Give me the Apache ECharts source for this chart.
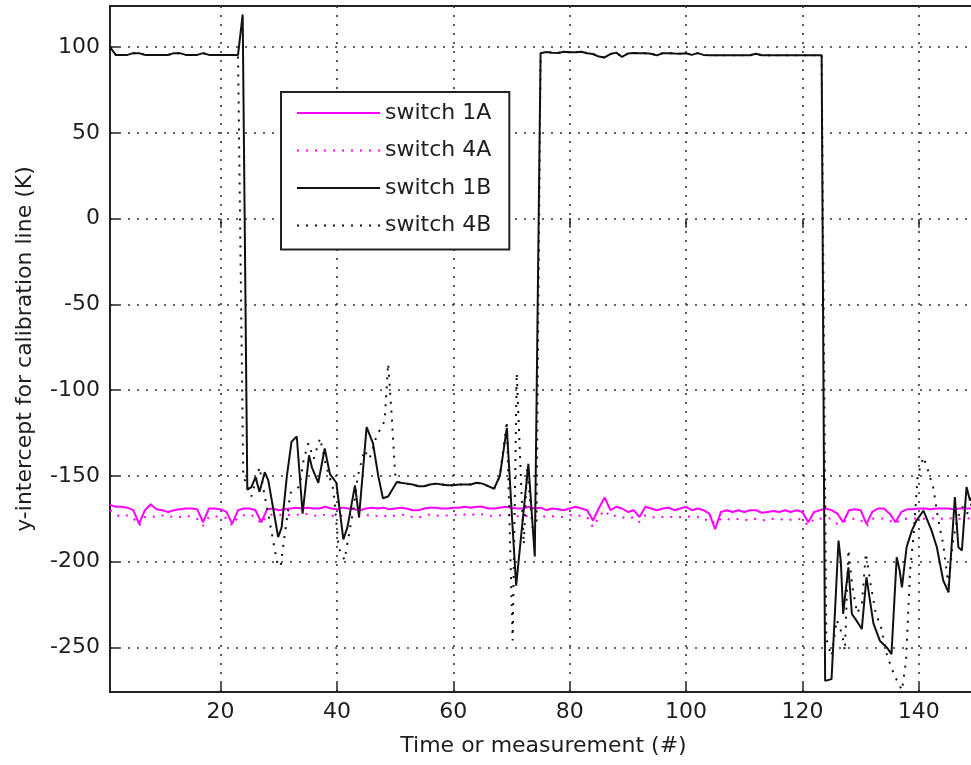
<!DOCTYPE html>
<html><head><meta charset="utf-8">
<script src="https://cdn.jsdelivr.net/npm/echarts@6/dist/echarts.min.js"></script>
<style>html,body{margin:0;padding:0;background:#fff}#c{width:971px;height:765px}</style>
</head><body><div id="c"></div>
<script>
const xTicks = [20,40,60,80,100,120,140];
const yTicks = [-250,-200,-150,-100,-50,0,50,100];
const legendNames = ['switch 1A','switch 4A','switch 1B','switch 4B'];

// switch 1A, one value per measurement 1..150
const switch1A = [
-167,-168,-168,-168.5,-170,-178,-170,-166.5,-169.5,-170,
-171,-170,-169.5,-169,-169,-169.5,-177,-169,-169,-169.5,
-171,-178,-170,-169,-169,-170,-177,-169.5,-169,-170,
-169.5,-169,-168.5,-169,-168.5,-169,-169,-168,-169,-169.5,
-168.5,-169,-169.5,-170,-169,-168.5,-169,-168.5,-169.5,-169,
-168.5,-169,-170,-170,-169,-168.5,-168.5,-169,-169,-168.5,
-168.5,-168,-168.5,-168,-168,-169,-169,-168.5,-168,-168.5,
-169,-169,-168,-169,-168.5,-170,-169,-169.5,-170,-169,
-168,-169,-170,-176,-169,-162.5,-170,-168,-169,-171,
-170,-174,-168,-169,-170,-169,-168.5,-170,-169,-168,
-170,-169,-170,-172,-181,-171,-170,-171,-170,-171,
-170,-170,-171.5,-171,-170.5,-171,-170,-171,-170,-171,
-177,-171,-170,-169,-170,-172,-177,-170,-169.5,-170,
-178,-171,-169,-169,-172,-177,-171,-169.5,-169.5,-169,
-169,-169.5,-169,-169,-169,-169.5,-169,-169,-169,-169
];

// switch 4A, one value per measurement 1..150
const switch4A = [
-170,-172.5,-174,-173,-174.5,-179,-174,-173.5,-174,-173,
-174,-173.5,-174,-173,-174,-175,-179,-174,-173.5,-174,
-174.5,-179,-174,-173,-172.5,-174,-178,-173,-172.5,-173,
-172,-173,-172.5,-173,-172,-173,-173.5,-172.5,-173,-174,
-173,-172.5,-173,-174,-173,-172.5,-173.5,-173,-174,-173,
-172.5,-173,-174,-174.5,-173,-172.5,-173,-173.5,-173,-172.5,
-173,-172.5,-173,-172,-172.5,-173,-173.5,-173,-172.5,-173,
-173.5,-174,-173,-173.5,-173,-174,-173.5,-174,-174,-173,
-172.5,-173.5,-174,-180,-174,-170,-174,-173,-174,-175,
-174,-177,-173,-174,-174.5,-174,-173.5,-174.5,-174,-173.5,
-174,-174,-176,-175,-178,-175,-175,-176,-175,-175.5,
-176,-175,-176,-175.5,-175,-175.5,-175,-175.5,-175,-175.5,
-179,-175,-175,-174.5,-175,-178,-177,-175,-175,-175.5,
-179.5,-175,-174.5,-175,-176,-178,-175,-175,-175,-174.5,
-175,-175,-174.5,-175,-175,-174.5,-175,-175,-174.5,-175
];

// switch 1B, [measurement, value]
const switch1B = [
[1,100],[2,95.5],[3,95.5],[4,95.5],[5,96.5],[6,96.5],[7,95.5],[8,95.5],[9,95.5],[10,95.5],[11,95.5],[12,96.5],[13,96.5],[14,95.5],[15,95.5],[16,95.5],[17,96.5],[18,95.5],[19,95.5],[20,95.5],[21,95.5],[22,95.5],[23,95.5],
[23.8,119],[24.6,-158],[25.3,-156.5],[26,-150.7],[26.7,-159.3],[27.6,-147.8],[28.2,-152.6],[29.1,-170],[29.9,-185.7],[30.5,-180],[31.4,-150],[32.2,-130],[33.1,-127],[34.1,-172],[35.2,-138],[35.7,-145],[36.8,-154],[37.9,-134],[38.8,-149],[39.9,-154],[41.1,-187],[41.8,-180],[43.1,-155.5],[43.8,-174],[45.1,-121.5],[46.2,-131],[47.1,-150],[47.9,-163],[48.8,-162],[50.3,-153.6],
[51,-154],[52,-154.5],[53,-155],[54,-156],[55,-156],[56,-155],[57,-154.5],[58,-155],[59,-155.5],[60,-155.5],[61,-155],[62,-155],[63,-155],[64,-154],[65,-154.5],[66,-156],[67,-157.5],[68,-150],[69.2,-122],[70.1,-175],[70.8,-214],[71.8,-180],[72.9,-143],[74,-197],[75,96.5],
[76,97.2],[77,96.8],[78,96.6],[79,97.3],[80,97],[81,97],[82,97.3],[83,96.5],[84,96],[85,94.5],[86,94],[87,96],[88,96.8],[89,94.3],[90,96.3],[91,96.6],[92,96.5],[93,96.5],[94,96.2],[95,95.2],[96,96.5],[97,96.5],[98,96.3],[99,96.2],[100,96.4],[101,95.5],[102,96.5],[103,95.5],[104,95.3],[105,95.3],[106,95.3],[107,95.3],[108,95.3],[109,95.3],[110,95.3],[111,95.3],[112,96.2],[113,95.3],[114,95.3],[115,95.3],[116,95.3],[117,95.3],[118,95.3],[119,95.3],[120,95.3],[121,95.3],[122,95.3],[123.3,95.3],
[123.9,-269.5],[125,-268.5],[125.6,-228.6],[126.2,-187.7],[126.6,-200],[127,-230.5],[127.5,-215],[127.9,-203.3],[128.5,-230.5],[129.3,-234.4],[130.2,-239.3],[131,-209.1],[132.2,-236],[133.3,-246.1],[134.5,-250],[135.3,-253.9],[136.2,-197.4],[136.7,-205],[137.1,-215],[137.9,-191.6],[138.8,-181.9],[139.6,-176],[140.8,-170.2],[142.2,-181.9],[143.1,-191.6],[144.2,-211],[145.1,-217.9],[146.2,-162.4],[146.8,-191.6],[147.4,-193.5],[148.2,-156.5],[148.8,-164.3],[150,-158]
];

// switch 4B, [measurement, value]
const switch4B = [
[1,100],[2,95.5],[3,95.5],[4,95.5],[5,96.5],[6,96.5],[7,95.5],[8,95.5],[9,95.5],[10,95.5],[11,95.5],[12,96.5],[13,96.5],[14,95.5],[15,95.5],[16,95.5],[17,96.5],[18,95.5],[19,95.5],[20,95.5],[21,95.5],[22,95.5],[23,95.5],
[23.9,-150],[25.3,-162],[26.7,-145],[27.5,-160],[28.5,-178],[29.7,-200],[30.3,-203],[31,-185],[32,-160],[33.6,-156],[34.3,-140],[35.1,-131],[36,-140],[37.1,-128],[38.2,-145],[39.4,-158],[40.3,-192],[41.3,-199],[42.8,-170],[43.6,-150],[44.7,-135],[45.6,-140],[46.8,-127],[48.2,-118],[48.8,-84.5],[49.4,-114],[50,-149],[50.5,-153.6],
[51,-154],[52,-154.5],[53,-155],[54,-156],[55,-156],[56,-155],[57,-154.5],[58,-155],[59,-155.5],[60,-155.5],[61,-155],[62,-155],[63,-155],[64,-154],[65,-154.5],[66,-156],[67,-157.5],[68,-150],[69.2,-118],[70.2,-246],[70.9,-90],[71.6,-150],[72.1,-190],[72.7,-145],[73.6,-180],[74.3,-178],[75,96.5],
[76,97.2],[77,96.8],[78,96.6],[79,97.3],[80,97],[81,97],[82,97.3],[83,96.5],[84,96],[85,94.5],[86,94],[87,96],[88,96.8],[89,94.3],[90,96.3],[91,96.6],[92,96.5],[93,96.5],[94,96.2],[95,95.2],[96,96.5],[97,96.5],[98,96.3],[99,96.2],[100,96.4],[101,95.5],[102,96.5],[103,95.5],[104,95.3],[105,95.3],[106,95.3],[107,95.3],[108,95.3],[109,95.3],[110,95.3],[111,95.3],[112,96.2],[113,95.3],[114,95.3],[115,95.3],[116,95.3],[117,95.3],[118,95.3],[119,95.3],[120,95.3],[121,95.3],[122,95.3],[123.3,95.3],
[124.1,-245],[125,-255],[125.9,-234],[126.8,-242],[127.3,-252],[127.9,-193],[128.6,-215],[129.4,-230],[130.2,-225],[130.9,-195],[131.8,-215],[132.6,-230],[133.5,-238],[134.5,-254],[135.3,-262],[136.2,-269],[137.1,-275],[137.8,-258],[138.5,-205],[139.1,-185],[139.8,-150],[140.8,-139],[141.5,-146],[142.5,-157],[143.3,-175],[144.2,-190],[145.1,-214],[145.8,-190],[146.6,-175],[147.5,-168],[148.3,-172],[149.2,-165],[150,-170]
];

const FONT = 'DejaVu Sans';
const TXT = '#1e1e1e';
const AX = '#222';
const GRIDC = '#333';
const DOT = [2, 7];
const MAG = '#ff00ff';
const BLK = '#111';

const chart = echarts.init(document.getElementById('c'), null, {renderer: 'canvas'});
const tickStyle = {color: AX, width: 1.5};
const lineBase = {type: 'line', symbol: 'none', showSymbol: false, silent: true, clip: true, emphasis: {disabled: true}};

chart.setOption({
  animation: false,
  backgroundColor: '#fff',
  grid: {left: 110, top: 6, right: -6, bottom: 73, show: true, borderColor: AX, borderWidth: 2,
         backgroundColor: 'transparent', containLabel: false, outerBoundsMode: 'none'},
  xAxis: [{
    type: 'value', min: 1, max: 150, position: 'bottom',
    name: 'Time or measurement (#)', nameLocation: 'middle', nameGap: 43,
    nameTextStyle: {fontFamily: FONT, fontSize: 22, color: TXT},
    axisLine: {show: true, onZero: false, lineStyle: {color: AX, width: 2}},
    axisTick: {show: true, inside: true, length: 9, customValues: xTicks, lineStyle: tickStyle},
    axisLabel: {show: true, customValues: xTicks, margin: 9, fontFamily: FONT, fontSize: 22, color: TXT},
    splitLine: {show: true, lineStyle: {color: GRIDC, width: 1.6, type: DOT}}
  }, {
    type: 'value', min: 1, max: 150, position: 'top',
    axisLine: {show: false},
    axisTick: {show: true, inside: true, length: 9, customValues: xTicks, lineStyle: tickStyle},
    axisLabel: {show: false},
    splitLine: {show: false}
  }],
  yAxis: [{
    type: 'value', min: -276, max: 124, position: 'left',
    name: 'y-intercept for calibration line (K)', nameLocation: 'middle', nameGap: 74, nameRotate: 90,
    nameTextStyle: {fontFamily: FONT, fontSize: 22, color: TXT},
    axisLine: {show: true, onZero: false, lineStyle: {color: AX, width: 2}},
    axisTick: {show: true, inside: true, length: 9, customValues: yTicks, lineStyle: tickStyle},
    axisLabel: {show: true, customValues: yTicks, margin: 10, fontFamily: FONT, fontSize: 22, color: TXT},
    splitLine: {show: true, lineStyle: {color: GRIDC, width: 1.6, type: DOT}}
  }],
  legend: {
    show: true, orient: 'vertical', left: 281, top: 92,
    padding: [10, 18, 13, 15], itemGap: 15.5, itemWidth: 83, itemHeight: 14,
    backgroundColor: '#fff', borderColor: AX, borderWidth: 2, borderRadius: 0,
    textStyle: {fontFamily: FONT, fontSize: 22, color: TXT, lineHeight: 22},
    itemStyle: {opacity: 0, borderWidth: 0},
    selectedMode: false,
    data: legendNames.map(n => ({name: n, itemStyle: {opacity: 0, borderWidth: 0}}))
  },
  series: [
    Object.assign({}, lineBase, {name: legendNames[0], data: switch1A.map((v, i) => [i + 1, v]),
      lineStyle: {color: MAG, width: 2}, itemStyle: {color: MAG}}),
    Object.assign({}, lineBase, {name: legendNames[1], data: switch4A.map((v, i) => [i + 1, v]),
      lineStyle: {color: MAG, width: 2, type: DOT}, itemStyle: {color: MAG}}),
    Object.assign({}, lineBase, {name: legendNames[2], data: switch1B,
      lineStyle: {color: BLK, width: 2}, itemStyle: {color: BLK}}),
    Object.assign({}, lineBase, {name: legendNames[3], data: switch4B,
      lineStyle: {color: BLK, width: 2, type: DOT}, itemStyle: {color: BLK}})
  ]
});
</script>
</body></html>
